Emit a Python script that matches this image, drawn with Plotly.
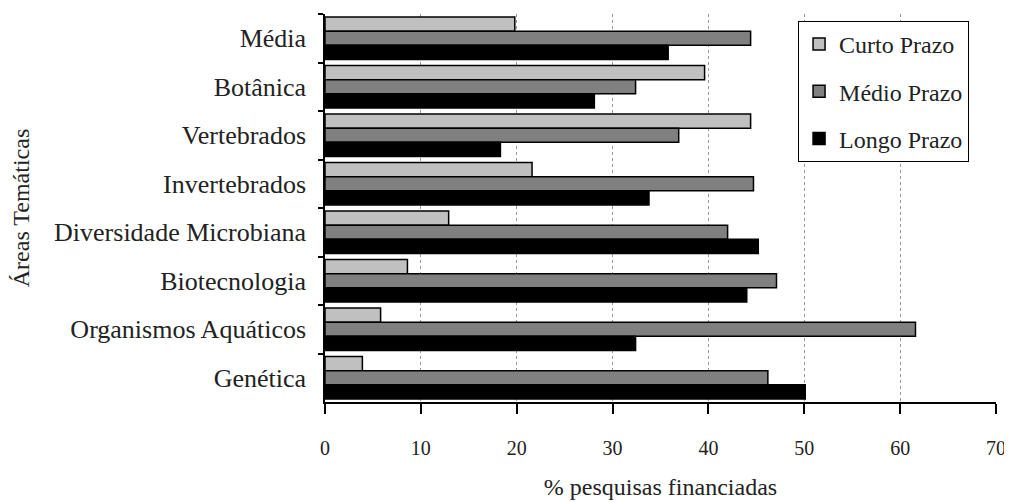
import plotly.graph_objects as go

categorias = ["Média", "Botânica", "Vertebrados", "Invertebrados",
              "Diversidade Microbiana", "Biotecnologia", "Organismos Aquáticos", "Genética"]
curto_prazo = [19.8, 39.6, 44.4, 21.6, 12.9, 8.6, 5.8, 3.9]
medio_prazo = [44.4, 32.4, 36.9, 44.7, 42.0, 47.1, 61.6, 46.2]
longo_prazo = [35.8, 28.1, 18.3, 33.8, 45.2, 44.0, 32.4, 50.1]
x_ticks = [0, 10, 20, 30, 40, 50, 60, 70]

FONT = "Liberation Serif"
TXT = "#222222"

fig = go.Figure()
series = [("Curto Prazo", curto_prazo, "#C0C0C0"),
          ("Médio Prazo", medio_prazo, "#808080"),
          ("Longo Prazo", longo_prazo, "#000000")]
for i, (name, vals, col) in enumerate(series):
    fig.add_trace(go.Bar(
        y=categorias, x=vals, name=name, orientation="h",
        marker=dict(color=col, line=dict(color="#000000", width=1.5)),
        legendgroup=f"g{i}",
    ))

# page body adds an 8px margin, so the figure is 8px smaller than the window
fig.update_layout(
    width=1004, height=494,
    margin=dict(l=317, r=13, t=6, b=98),
    paper_bgcolor="white", plot_bgcolor="white",
    barmode="group", bargap=0.12, bargroupgap=0,
    font=dict(family=FONT, size=24, color=TXT),
    showlegend=True,
    legend=dict(
        x=0.705, y=0.982, xanchor="left", yanchor="top",
        bordercolor="#000000", borderwidth=1, bgcolor="white",
        font=dict(family=FONT, size=24, color=TXT),
        tracegroupgap=13, traceorder="grouped",
        itemwidth=30,
    ),
    xaxis=dict(
        range=[0, 70], tickvals=x_ticks, ticktext=[str(v) for v in x_ticks],
        tickfont=dict(family=FONT, size=20, color=TXT),
        showgrid=True, gridcolor="#999999", griddash="dot", gridwidth=1,
        showline=True, linecolor="#000000", linewidth=1.5,
        ticks="outside", ticklen=10, tickwidth=1.5, tickcolor="#000000",
        ticklabelstandoff=17, zeroline=False,
        title=dict(text="% pesquisas financiadas", standoff=20,
                   font=dict(family=FONT, size=24, color=TXT)),
    ),
    yaxis=dict(
        categoryorder="array", categoryarray=categorias, autorange="reversed",
        tickfont=dict(family=FONT, size=26, color=TXT),
        showline=True, linecolor="#000000", linewidth=1.5,
        ticks="outside", ticklen=5, tickwidth=1.5, tickcolor="#000000",
        tickson="boundaries", ticklabelstandoff=12, showgrid=False,
        title=dict(text="Áreas Temáticas", standoff=19,
                   font=dict(family=FONT, size=24, color=TXT)),
    ),
)

fig.write_html("out.html")
